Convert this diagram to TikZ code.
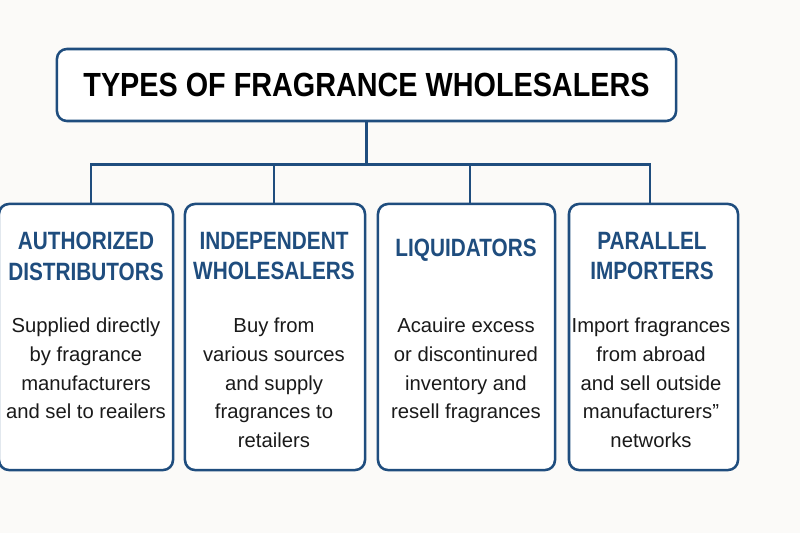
\documentclass[tikz,border=0pt]{standalone}
\usepackage{fontspec}
\setmainfont{Liberation Sans}
\newfontfamily\titlefont[FakeStretch=0.86]{Liberation Sans}
\newfontfamily\headfont[FakeStretch=0.83]{Liberation Sans}
\usetikzlibrary{positioning}
\definecolor{navy}{HTML}{1F4D7E}
\definecolor{paper}{HTML}{FBFAF8}
\definecolor{ink}{HTML}{1A1A1A}
\tikzstyle{card}  = [draw=navy, line width=1.8pt, rounded corners=0.25cm, fill=white, minimum height=6.65cm]
\tikzstyle{head}  = [text=navy, align=center, font=\headfont\bfseries\fontsize{17.8}{22}\selectfont]
\tikzstyle{body}  = [text=ink, align=center, anchor=north, inner sep=0pt, font=\fontsize{14.4}{20.3}\selectfont]
\tikzstyle{link}  = [draw=navy, line width=1.8pt]

\begin{document}
\begin{tikzpicture}[x=0.025cm,y=-0.025cm]
		\useasboundingbox[fill=paper] (0,0) rectangle (800,533);

		% title
		\node[card, minimum width=15.475cm, minimum height=1.8cm] (title) at (366.5,85) {\titlefont\bfseries\fontsize{23.8}{28}\selectfont TYPES OF FRAGRANCE WHOLESALERS};

		% the four kinds
		\node[card, minimum width=4.35cm] (auth) at (86,337) {};
		\node[card, minimum width=4.5cm] (indep) at (275,337) {};
		\node[card, minimum width=4.425cm] (liqu) at (466.5,337) {};
		\node[card, minimum width=4.225cm] (para) at (653.5,337) {};

		\node[head] (authH) at (86,256) {AUTHORIZED\\DISTRIBUTORS};
		\node[head] (indepH) at (274,256) {INDEPENDENT\\WHOLESALERS};
		\node[head] (liquH) at (466,250) {LIQUIDATORS};
		\node[head] (paraH) at (652,256) {PARALLEL\\IMPORTERS};

		\node[body] (authB) at (86,318) {Supplied directly\\by fragrance\\manufacturers\\and sel to reailers};
		\node[body] (indepB) at (274,318) {Buy from\\various sources\\and supply\\fragrances to\\retailers};
		\node[body] (liquB) at (466,318) {Acauire excess\\or discontinured\\inventory and\\resell fragrances};
		\node[body] (paraB) at (651,318) {Import fragrances\\from abroad\\and sell outside\\manufacturers”\\networks};

		% connectors
		\coordinate (hub) at ([yshift=-1.05cm]title.south);
		\draw[link] (title.south) -- (hub);
		\draw[link] (hub) -| ([xshift=0.125cm]auth.north);
		\draw[link] (hub) -| ([xshift=-0.025cm]indep.north);
		\draw[link] (hub) -| ([xshift=0.0875cm]liqu.north);
		\draw[link] (hub) -| ([xshift=-0.0875cm]para.north);
	\end{tikzpicture}
\end{document}
